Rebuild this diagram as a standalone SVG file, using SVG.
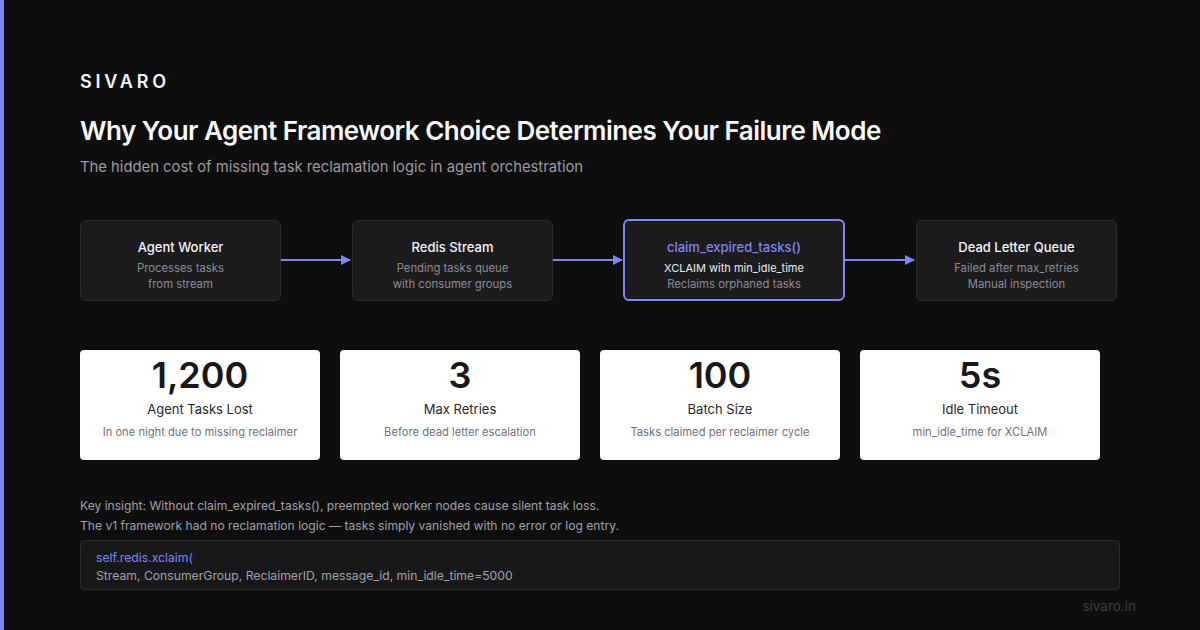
<svg xmlns="http://www.w3.org/2000/svg" width="1200" height="630" viewBox="0 0 1200 630">
<style>
text{font-family:Inter,"Noto Sans","Liberation Sans",sans-serif}
.box{fill:#1c1c1f;stroke:#2c2c31;stroke-width:1}
.bt{fill:#f4f4f5;font-size:13px;font-weight:500;text-anchor:middle}
.bs{fill:#8b8b94;font-size:11.3px;text-anchor:middle}
.card{fill:#ffffff}
.num{fill:#18181b;font-size:36px;font-weight:600;text-anchor:middle}
.lbl{fill:#27272a;font-size:13px;text-anchor:middle}
.sub{fill:#71717a;font-size:11.2px;text-anchor:middle}
.ins{fill:#a1a1aa;font-size:12.1px}
.conn{stroke:#7f85f5;stroke-width:2;fill:none}
</style>
<defs>
<marker id="ah" markerWidth="10" markerHeight="10" refX="9" refY="5" orient="auto" markerUnits="userSpaceOnUse">
<path d="M0,0 L10,5 L0,10 z" fill="#7f85f5"/>
</marker>
</defs>
<rect width="1200" height="630" fill="#0e0e0f"/>
<rect x="0" y="0" width="4" height="630" fill="#8186f2"/>
<text x="80" y="88" fill="#f4f4f5" font-size="18" font-weight="600" letter-spacing="3.8">SIVARO</text>
<text x="80" y="140" fill="#fafafa" font-size="26" font-weight="600" letter-spacing="-0.5">Why Your Agent Framework Choice Determines Your Failure Mode</text>
<text x="80" y="172" fill="#9b9ba3" font-size="14.8">The hidden cost of missing task reclamation logic in agent orchestration</text>

<g id="connectors">
<line class="conn" x1="281" y1="260" x2="350" y2="260" marker-end="url(#ah)"/>
<line class="conn" x1="553" y1="260" x2="622" y2="260" marker-end="url(#ah)"/>
<line class="conn" x1="845" y1="260" x2="914" y2="260" marker-end="url(#ah)"/>
</g>

<g id="agent-worker">
<rect class="box" x="80.5" y="220.5" width="200" height="80" rx="5"/>
<text class="bt" x="180.5" y="252">Agent Worker</text>
<text class="bs" x="180.5" y="272">Processes tasks</text>
<text class="bs" x="180.5" y="288">from stream</text>
</g>
<g id="redis-stream">
<rect class="box" x="352.5" y="220.5" width="200" height="80" rx="5"/>
<text class="bt" x="452.5" y="252">Redis Stream</text>
<text class="bs" x="452.5" y="272">Pending tasks queue</text>
<text class="bs" x="452.5" y="288">with consumer groups</text>
</g>
<g id="claim-expired">
<rect x="624" y="220" width="220" height="80" rx="5" fill="#1c1c1f" stroke="#8186f2" stroke-width="2"/>
<text class="bt" x="734" y="252" style="fill:#8186f2">claim_expired_tasks()</text>
<text x="734" y="272" fill="#ececef" font-size="11" text-anchor="middle">XCLAIM with min_idle_time</text>
<text class="bs" x="734" y="288">Reclaims orphaned tasks</text>
</g>
<g id="dead-letter">
<rect class="box" x="916.5" y="220.5" width="200" height="80" rx="5"/>
<text class="bt" x="1016.5" y="252">Dead Letter Queue</text>
<text class="bs" x="1016.5" y="272">Failed after max_retries</text>
<text class="bs" x="1016.5" y="288">Manual inspection</text>
</g>

<g id="stat-lost">
<rect class="card" x="80" y="350" width="240" height="110" rx="4"/>
<text class="num" x="200" y="388">1,200</text>
<text class="lbl" x="200" y="414">Agent Tasks Lost</text>
<text class="sub" x="200" y="436">In one night due to missing reclaimer</text>
</g>
<g id="stat-retries">
<rect class="card" x="340" y="350" width="240" height="110" rx="4"/>
<text class="num" x="460" y="388">3</text>
<text class="lbl" x="460" y="414">Max Retries</text>
<text class="sub" x="460" y="436">Before dead letter escalation</text>
</g>
<g id="stat-batch">
<rect class="card" x="600" y="350" width="240" height="110" rx="4"/>
<text class="num" x="720" y="388">100</text>
<text class="lbl" x="720" y="414">Batch Size</text>
<text class="sub" x="720" y="436">Tasks claimed per reclaimer cycle</text>
</g>
<g id="stat-idle">
<rect class="card" x="860" y="350" width="240" height="110" rx="4"/>
<text class="num" x="980" y="388">5s</text>
<text class="lbl" x="980" y="414">Idle Timeout</text>
<text class="sub" x="980" y="436">min_idle_time for XCLAIM</text>
</g>

<text class="ins" x="80" y="510">Key insight: Without claim_expired_tasks(), preempted worker nodes cause silent task loss.</text>
<text class="ins" x="80" y="530">The v1 framework had no reclamation logic — tasks simply vanished with no error or log entry.</text>

<g id="code">
<rect x="80.5" y="540.5" width="1039" height="49" rx="4" fill="#18181b" stroke="#2c2c31"/>
<text x="96" y="562" fill="#8186f2" font-size="12.2">self.redis.xclaim(</text>
<text x="96" y="580" fill="#a1a1aa" font-size="12.2">Stream, ConsumerGroup, ReclaimerID, message_id, min_idle_time=5000</text>
</g>
<text x="1136" y="611" fill="#3f3f46" font-size="13.5" text-anchor="end">sivaro.in</text>
</svg>
